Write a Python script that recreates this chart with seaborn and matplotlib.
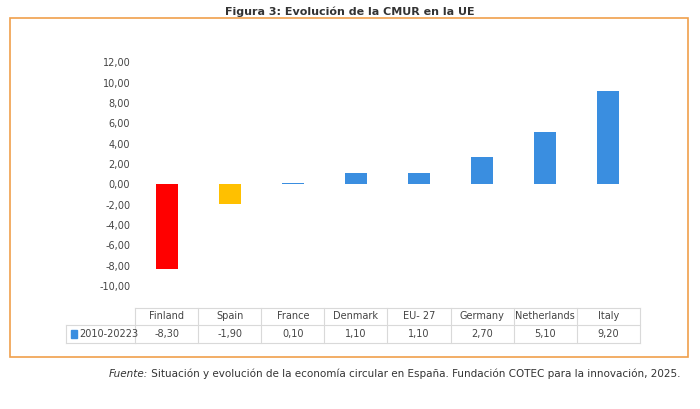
## Evolución de la CMUR en la UE

import matplotlib.pyplot as plt # Low level plotting
import seaborn as sns # High level Plotting
import pandas as pd # For DataFrame and handling
from matplotlib.patches import Rectangle

# Values (2010-20223)
cmur = pd.DataFrame({
    'country': ['Finland', 'Spain', 'France', 'Denmark', 'EU- 27', 'Germany', 'Netherlands', 'Italy'],
    'change': [-8.30, -1.90, 0.10, 1.10, 1.10, 2.70, 5.10, 9.20]})
colors = ['#FF0000', '#FFC000'] + ['#3A8EE0'] * 6

fig = plt.figure(figsize=(7, 4.09), dpi=100)
ax = fig.add_axes([0.193, 0.301, 0.721, 0.547])
sns.barplot(data=cmur, x='country', y='change', hue='country', palette=colors,
            width=0.35, saturation=1, legend=False, ax=ax)
ax.set_ylim(-10, 12)
ax.set_yticks(range(-10, 13, 2))
ax.set_yticklabels([f'{v:.2f}'.replace('.', ',') for v in range(-10, 13, 2)], fontsize=7, color='#444444')
ax.tick_params(length=0)
ax.set_xticks([])
ax.set_xlabel('')
ax.set_ylabel('')
for s in ax.spines.values():
    s.set_visible(False)

# data table under the plot
tr = ax.get_xaxis_transform()
line_kw = dict(color='#D9D9D9', lw=0.8, clip_on=False, transform=tr)
for yl in [-0.098, -0.174, -0.254]:
    ax.plot([-0.5, 7.5], [yl, yl], **line_kw)
for i in range(9):
    ax.plot([i - 0.5, i - 0.5], [-0.098, -0.254], **line_kw)
ax.plot([-0.5 - 1.1, -0.5], [-0.174, -0.174], **line_kw)
ax.plot([-0.5 - 1.1, -0.5], [-0.254, -0.254], **line_kw)
ax.plot([-0.5 - 1.1, -0.5 - 1.1], [-0.174, -0.254], **line_kw)
for i, row in cmur.iterrows():
    ax.text(i, -0.136, row['country'], transform=tr, ha='center', va='center', fontsize=7, color='#444444')
    ax.text(i, -0.214, f"{row['change']:.2f}".replace('.', ','), transform=tr, ha='center', va='center',
            fontsize=7, color='#444444')
ax.add_patch(Rectangle((-1.52, -0.232), 0.1, 0.035, transform=tr, color='#3A8EE0', clip_on=False))
ax.text(-1.38, -0.214, '2010-20223', transform=tr, ha='left', va='center', fontsize=7, color='#444444')
ax.set_xlim(-0.5, 7.5) # the table lines must not widen the axis

# frame, title and source
fig.patches.append(Rectangle((0.014, 0.127), 0.969, 0.829, transform=fig.transFigure,
                             fill=False, edgecolor='#F0A04B', lw=1.2))
fig.text(0.5, 0.985, 'Figura 3: Evolución de la CMUR en la UE', ha='center', va='top',
         fontsize=8, fontweight='bold', color='#333333')
src = fig.text(0.155, 0.085, 'Fuente:', ha='left', va='center', fontsize=7.5, style='italic', color='#333333')
ax.annotate(' Situación y evolución de la economía circular en España. Fundación COTEC para la innovación, 2025.',
            xy=(1, 0), xycoords=src, ha='left', va='bottom', fontsize=7.5, color='#333333')

fig.savefig('out.png', dpi=100)
